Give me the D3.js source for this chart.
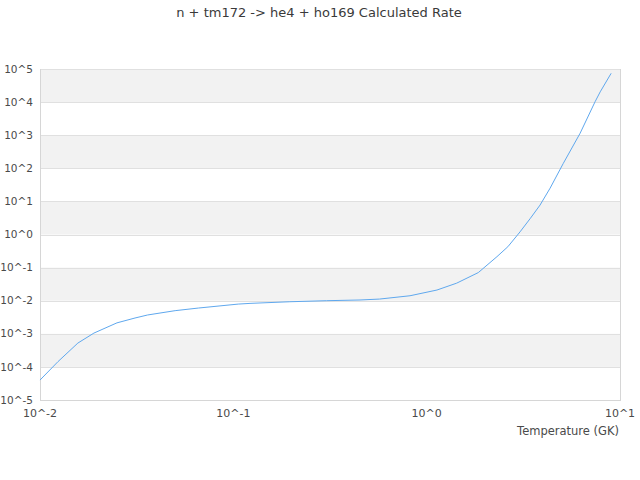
<!DOCTYPE html>
<html><head><meta charset="utf-8">
<script src="https://cdn.jsdelivr.net/npm/d3@7/dist/d3.min.js"></script>
<style>body{margin:0;background:#fff;} text{font-family:"DejaVu Sans",sans-serif;}</style>
</head><body><svg id="c" width="640" height="480"></svg>
<script>
const title = "n + tm172 -> he4 + ho169 Calculated Rate";
const xLabel = "Temperature (GK)";
const temperature = [0.01, 0.0124, 0.0157, 0.019, 0.025, 0.031, 0.036, 0.05, 0.066, 0.106, 0.122, 0.196, 0.304, 0.452, 0.57, 0.82, 1.13, 1.43, 1.85, 2.31, 2.63, 3.04, 3.44, 3.86, 4.35, 5.09, 6.22, 7.43, 7.9, 9.0];
const rate = [4.0e-5, 1.45e-4, 5.25e-4, 1.05e-3, 2.14e-3, 3.0e-3, 3.7e-3, 5.0e-3, 6.0e-3, 7.9e-3, 8.3e-3, 9.3e-3, 1.0e-2, 1.05e-2, 1.12e-2, 1.41e-2, 2.1e-2, 3.39e-2, 7.08e-2, 0.214, 0.427, 1.20, 3.09, 7.76, 25.1, 141, 1148, 10230, 20400, 74100];
const xTicks = [0.01, 0.1, 1, 10];
const xTickLabels = ["10^-2", "10^-1", "10^0", "10^1"];
const yTicks = [1e-5, 1e-4, 1e-3, 1e-2, 1e-1, 1, 10, 100, 1e3, 1e4, 1e5];
const yTickLabels = ["10^-5", "10^-4", "10^-3", "10^-2", "10^-1", "10^0", "10^1", "10^2", "10^3", "10^4", "10^5"];

const L = 40, R = 620, T = 69, B = 400;
const svg = d3.select("#c");
const x = d3.scaleLog().domain([0.01, 10]).range([L, R]);
const y = d3.scaleLog().domain([1e-5, 1e5]).range([B, T]);

// alternating bands
for (let i = 0; i < yTicks.length - 1; i++) {
  if (i % 2 === 1) {
    svg.append("rect").attr("x", L).attr("width", R - L)
      .attr("y", y(yTicks[i + 1])).attr("height", y(yTicks[i]) - y(yTicks[i + 1]))
      .attr("fill", "#f2f2f2");
  }
}
// gridlines
svg.append("g").selectAll("line").data(yTicks).join("line")
  .attr("x1", L).attr("x2", R)
  .attr("y1", d => Math.round(y(d)) + 0.5).attr("y2", d => Math.round(y(d)) + 0.5)
  .attr("stroke", "#e0e0e0").attr("stroke-width", 1);
// borders
svg.append("line").attr("x1", L + 0.5).attr("x2", L + 0.5).attr("y1", T).attr("y2", B + 1).attr("stroke", "#d6d6d6");
svg.append("line").attr("x1", R + 0.5).attr("x2", R + 0.5).attr("y1", T).attr("y2", B + 1).attr("stroke", "#d6d6d6");
svg.append("line").attr("x1", L).attr("x2", R + 1).attr("y1", B + 0.5).attr("y2", B + 0.5).attr("stroke", "#d6d6d6");

// y labels
svg.append("g").selectAll("text").data(yTicks).join("text")
  .attr("x", 33).attr("y", d => y(d)).attr("dy", "0.35em")
  .attr("text-anchor", "end").attr("font-size", 10.5).attr("fill", "#4a4a4a")
  .text((d, i) => yTickLabels[i]);
// x labels
svg.append("g").selectAll("text").data(xTicks).join("text")
  .attr("x", d => x(d)).attr("y", 413).attr("dy", "0.35em")
  .attr("text-anchor", "middle").attr("font-size", 11).attr("fill", "#4a4a4a")
  .text((d, i) => xTickLabels[i]);
svg.append("text").attr("x", 619).attr("y", 431).attr("dy", "0.35em")
  .attr("text-anchor", "end").attr("font-size", 11.5).attr("fill", "#4a4a4a").text(xLabel);
svg.append("text").attr("x", 319).attr("y", 12).attr("dy", "0.35em")
  .attr("text-anchor", "middle").attr("font-size", 13).attr("fill", "#3a3a3a").text(title);

// line
const data = temperature.map((t, i) => [t, rate[i]]);
svg.append("path").datum(data)
  .attr("fill", "none").attr("stroke", "#5fa8ee").attr("stroke-width", 1)
  .attr("d", d3.line().x(d => x(d[0])).y(d => y(d[1])));
</script></body></html>
